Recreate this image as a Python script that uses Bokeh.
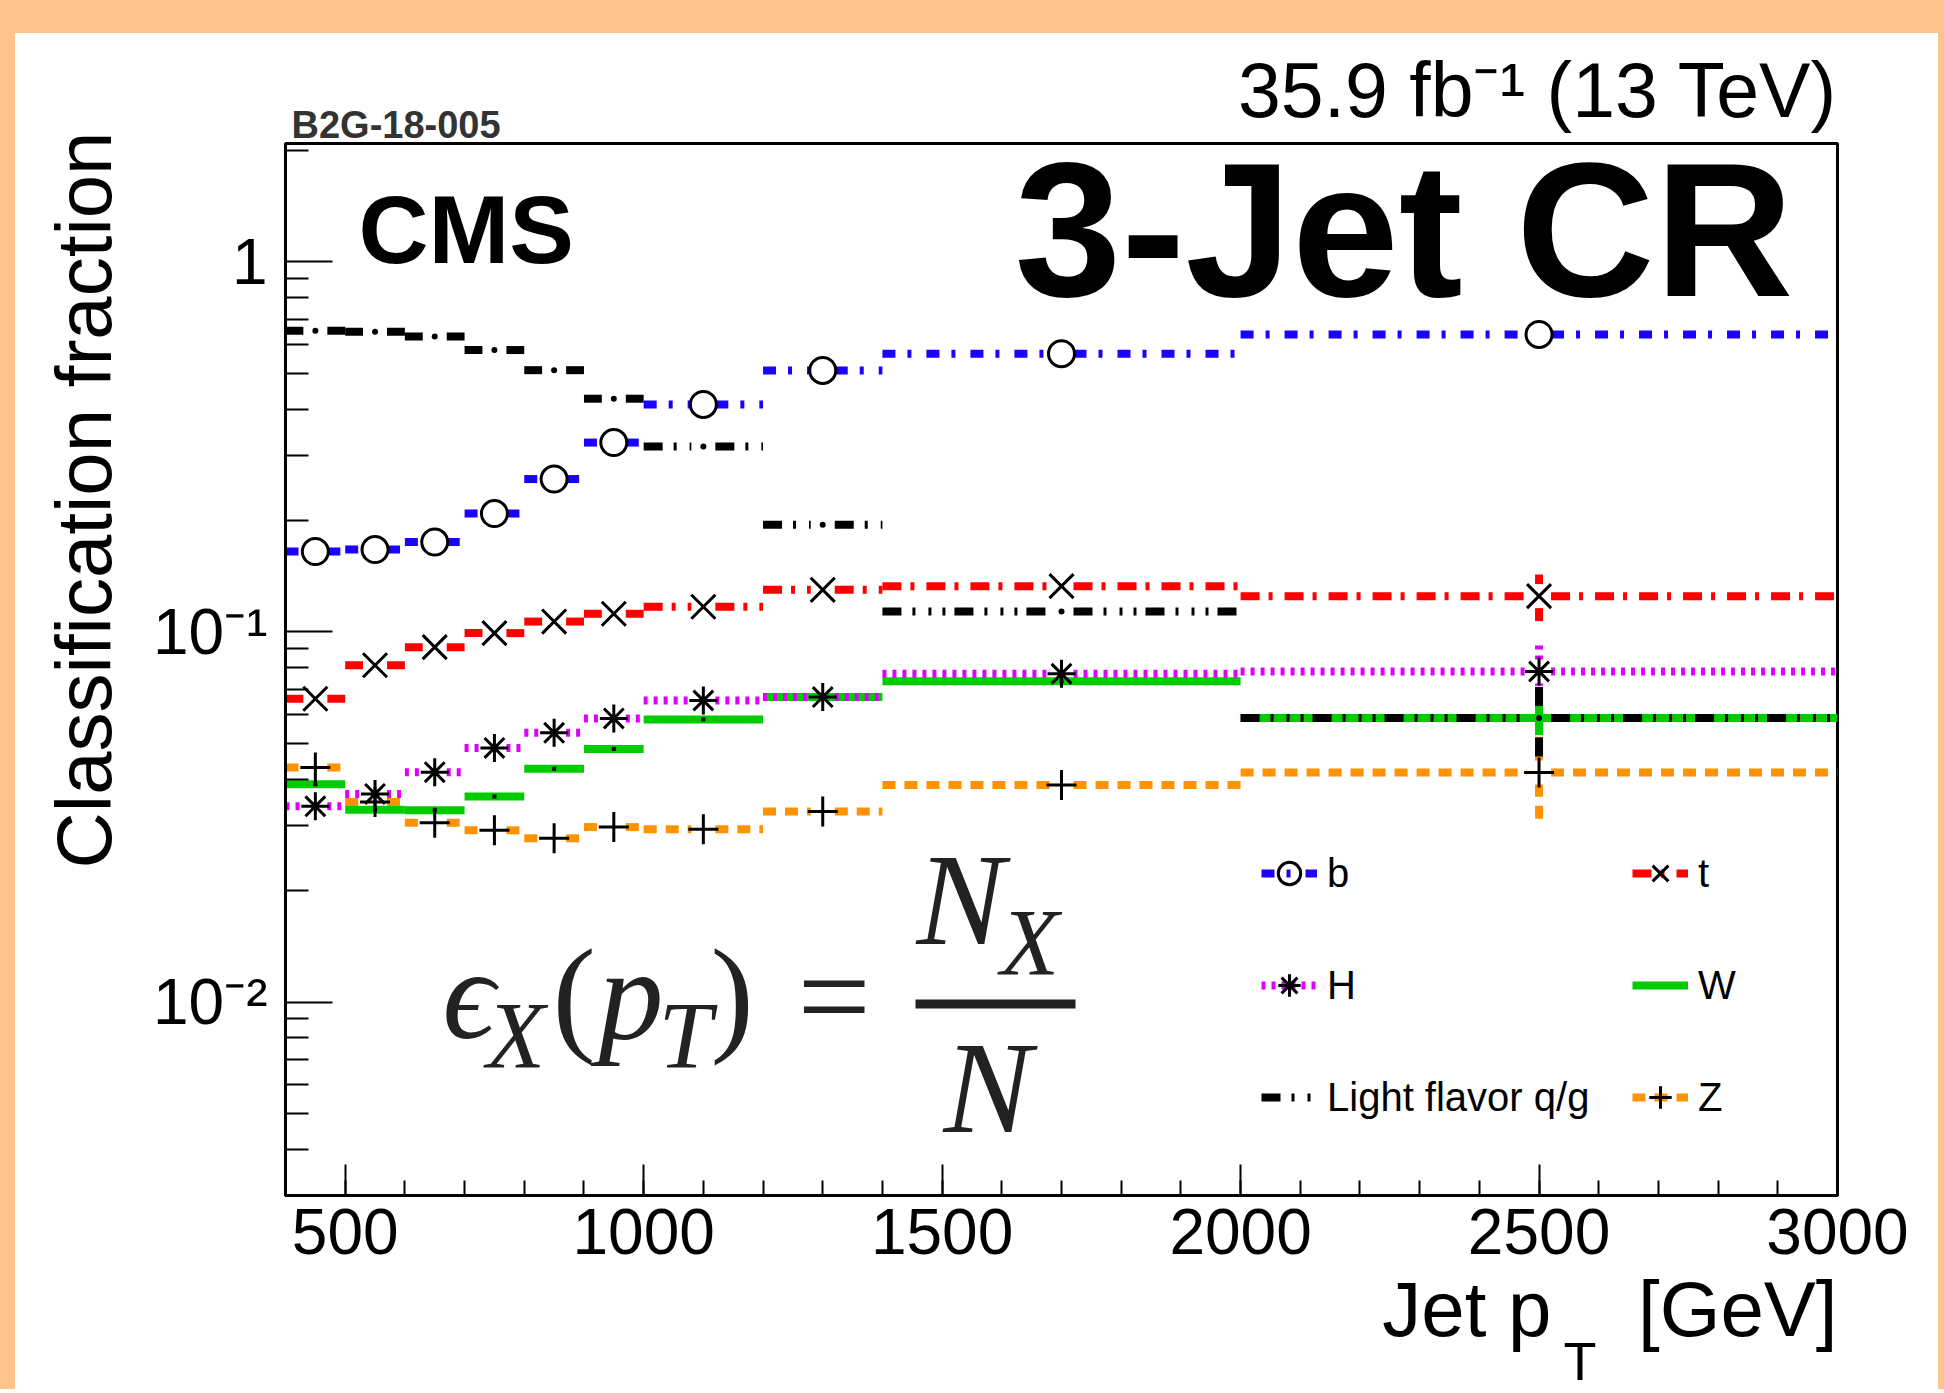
import math
from bokeh.plotting import figure
from bokeh.models import (Range1d, FixedTicker, SingleIntervalTicker, Label, Legend,
                          LegendItem, ColumnDataSource, BoxAnnotation, Div, Title)
from bokeh.layouts import column, row
from bokeh.embed import file_html
from bokeh.resources import INLINE

# ---------------- data ----------------
bin_edges = [400, 500, 600, 700, 800, 900, 1000, 1200, 1400, 2000, 3000]
bin_centers = [450, 550, 650, 750, 850, 950, 1100, 1300, 1700, 2500]

frac_b = [0.165, 0.167, 0.175, 0.209, 0.259, 0.325, 0.412, 0.509, 0.565, 0.637]
frac_t = [0.066, 0.0813, 0.091, 0.0993, 0.1067, 0.112, 0.117, 0.130, 0.133, 0.125]
frac_H = [0.0338, 0.0365, 0.0418, 0.0486, 0.0534, 0.0584, 0.0653, 0.0667, 0.0771, 0.0782]
frac_W = [0.0388, 0.0331, 0.0330, 0.0359, 0.0427, 0.0483, 0.0580, 0.0667, 0.0736, 0.0586]
frac_lf = [0.652, 0.648, 0.629, 0.578, 0.510, 0.427, 0.317, 0.195, 0.1136, 0.0586]
frac_Z = [0.0430, 0.0347, 0.0305, 0.0291, 0.0277, 0.0297, 0.0293, 0.0327, 0.0386, 0.0417]

err_b = [0, 0, 0, 0, 0, 0, 0, 0, 0, 0.0]
err_t = [0, 0, 0, 0, 0, 0, 0, 0, 0, 0.018]
err_H = [0, 0, 0, 0, 0, 0, 0, 0, 0, 0.015]
err_W = [0, 0, 0, 0, 0, 0, 0, 0, 0, 0.006]
err_lf = [0, 0, 0, 0, 0, 0, 0, 0, 0, 0.0125]
err_Z = [0, 0, 0, 0, 0, 0, 0, 0, 0, 0.0104]

y_major_ticks = [0.01, 0.1, 1]
y_tick_labels = {0.01: "10\u207b\u00b2", 0.1: "10\u207b\u00b9", 1: "1"}

# ---------------- geometry ----------------
X_MIN, X_MAX = 400, 3000
Y_MIN, Y_MAX = 0.003, 2.09
FRAME_L, FRAME_T, FRAME_W, FRAME_H = 285, 143, 1552, 1052
LOG_TOP, LOG_BOT = math.log10(Y_MAX), math.log10(Y_MIN)
GEV_PER_PX = (X_MAX - X_MIN) / FRAME_W
PX_PER_DEC = FRAME_H / (LOG_TOP - LOG_BOT)


def X(px):
    return X_MIN + (px - FRAME_L) * GEV_PER_PX


def Y(py):
    return 10 ** (LOG_TOP - (py - FRAME_T) / PX_PER_DEC)


ORANGE = "#FFC48C"
SANS = "Liberation Sans"
SERIF = "Liberation Serif"

p = figure(frame_width=FRAME_W, frame_height=FRAME_H,
           x_range=Range1d(X_MIN, X_MAX), y_range=Range1d(Y_MIN, Y_MAX),
           y_axis_type="log", output_backend="svg", toolbar_location=None,
           title="35.9 fb\u207b\u00b9 (13 TeV)",
           min_border_left=270, min_border_right=101, min_border_top=110,
           min_border_bottom=194)
p.outline_line_color = "black"
p.outline_line_width = 3
p.xgrid.visible = False
p.ygrid.visible = False
p.background_fill_color = "white"
p.border_fill_color = "white"

xa = p.xaxis[0]
xa.ticker = SingleIntervalTicker(interval=500, num_minor_ticks=5)
ya = p.yaxis[0]
minor = []
for dec in [0.001, 0.01, 0.1, 1]:
    for m in range(2, 10):
        v = m * dec
        if Y_MIN <= v <= Y_MAX:
            minor.append(v)
ya.ticker = FixedTicker(ticks=y_major_ticks, minor_ticks=minor)
ya.major_label_overrides = y_tick_labels

for ax, maj, mnr, stand in [(xa, 31, 15, 13), (ya, 47, 23, 18)]:
    ax.axis_line_width = 3
    ax.axis_line_color = "black"
    ax.major_tick_in = maj
    ax.major_tick_out = 0
    ax.minor_tick_in = mnr
    ax.minor_tick_out = 0
    ax.major_tick_line_width = 2
    ax.minor_tick_line_width = 2
    ax.major_tick_line_color = "black"
    ax.minor_tick_line_color = "black"
    ax.major_label_text_font = SANS
    ax.major_label_text_font_size = "64px"
    ax.major_label_text_color = "black"
    ax.major_label_standoff = stand

# ---------------- series ----------------
series = {
    "b": dict(vals=frac_b, errs=err_b, color="#1a00ff", dash="13 12 4 15", width=8,
              marker="circle", msize=26, mfill=None, gap=12),
    "t": dict(vals=frac_t, errs=err_t, color="#ff0000", dash="19 9 4 12", width=8,
              marker="x", msize=34, mfill=None, gap=12),
    "H": dict(vals=frac_H, errs=err_H, color="#dd00ff", dash="4 6", width=8,
              marker="asterisk", msize=28, mfill=None, gap=12),
    "W": dict(vals=frac_W, errs=err_W, color="#00cc00", dash="solid", width=8,
              marker="square", msize=4, mfill="black", gap=0),
    "lf": dict(vals=frac_lf, errs=err_lf, color="#000000", dash="19 11 3 13 3 11 3 9", width=8,
               marker="circle", msize=6, mfill="black", gap=12),
    "Z": dict(vals=frac_Z, errs=err_Z, color="#ff9200", dash="13 9", width=8,
              marker="cross", msize=30, mfill=None, gap=12),
}


def build_segments(vals, errs, gap_px):
    gx = gap_px * GEV_PER_PX
    gy = 10 ** (gap_px / PX_PER_DEC)
    x0, y0, x1, y1 = [], [], [], []
    for i, (c, v, e) in enumerate(zip(bin_centers, vals, errs)):
        lo, hi = bin_edges[i], bin_edges[i + 1]
        if gap_px > 0:
            x0 += [lo, c + gx]; y0 += [v, v]; x1 += [c - gx, hi]; y1 += [v, v]
        else:
            x0.append(lo); y0.append(v); x1.append(hi); y1.append(v)
        if e > 0:
            if gap_px > 0:
                if v - e < v / gy:
                    x0.append(c); y0.append(v - e); x1.append(c); y1.append(v / gy)
                if v + e > v * gy:
                    x0.append(c); y0.append(v * gy); x1.append(c); y1.append(v + e)
            else:
                x0.append(c); y0.append(v - e); x1.append(c); y1.append(v + e)
    return ColumnDataSource(dict(x0=x0, y0=y0, x1=x1, y1=y1))


seg_r, mk_r = {}, {}
for key in ["W", "b", "t", "H", "Z", "lf"]:
    s = series[key]
    src = build_segments(s["vals"], s["errs"], s["gap"])
    seg_r[key] = p.segment("x0", "y0", "x1", "y1", source=src, line_color=s["color"],
                           line_width=s["width"], line_dash=s["dash"], line_cap="butt")
for key in ["W", "b", "t", "H", "Z", "lf"]:
    s = series[key]
    msrc = ColumnDataSource(dict(x=bin_centers, y=s["vals"]))
    if s["mfill"] is None:
        mk_r[key] = p.scatter("x", "y", source=msrc, marker=s["marker"], size=s["msize"],
                              line_color="black", line_width=3, fill_color=None)
    else:
        mk_r[key] = p.scatter("x", "y", source=msrc, marker=s["marker"], size=s["msize"],
                              line_color=None, fill_color="black")

leg_style = dict(orientation="vertical", glyph_width=56, glyph_height=56, spacing=56,
                 padding=0, label_standoff=10, label_text_font=SANS,
                 label_text_font_size="40px", label_text_color="black",
                 border_line_alpha=0, background_fill_alpha=0, label_height=56)
leg1 = Legend(items=[LegendItem(label="b", renderers=[seg_r["b"], mk_r["b"]]),
                     LegendItem(label="H", renderers=[seg_r["H"], mk_r["H"]]),
                     LegendItem(label="Light flavor q/g", renderers=[seg_r["lf"]])],
              location=(976, 70), **leg_style)
leg2 = Legend(items=[LegendItem(label="t", renderers=[seg_r["t"], mk_r["t"]]),
                     LegendItem(label="W", renderers=[seg_r["W"]]),
                     LegendItem(label="Z", renderers=[seg_r["Z"], mk_r["Z"]])],
              location=(1347, 70), **leg_style)
p.add_layout(leg1)
p.add_layout(leg2)

# ---------------- texts outside the frame (titles) ----------------
# luminosity label: the plot title, outermost above the frame
p.title.align = "right"
p.title.offset = 0
p.title.standoff = -58
p.title.text_font = SANS
p.title.text_font_size = "77px"
p.title.text_font_style = "normal"
p.title.text_color = "black"

b2g = Title(text="B2G-18-005", align="left", offset=6, standoff=-4,
            text_font=SANS, text_font_size="38px", text_font_style="bold",
            text_color="#333333")
p.add_layout(b2g, "above")

ytitle = Title(text="Classification fraction", align="right", offset=-12, standoff=44,
               text_font=SANS, text_font_size="78px", text_font_style="normal",
               text_color="black")
p.add_layout(ytitle, "left")

xtitle = Title(text="Jet p" + "\u00a0" * 4 + "[GeV]", align="right", standoff=12,
               text_font=SANS, text_font_size="78px", text_font_style="normal",
               text_color="black")
p.add_layout(xtitle, "below")
tsub = Title(text="T", align="left", offset=1278, standoff=-60,
             text_font=SANS, text_font_size="54px", text_font_style="normal",
             text_color="black")
p.add_layout(tsub, "below")


# ---------------- texts inside the frame ----------------
def lab(text, px, py, size, font=SANS, style="normal", color="black", k=0.355):
    # py is the wanted baseline; label anchored at the text middle
    p.add_layout(Label(x=X(px), y=Y(py - k * size), text=text, text_font=font,
                       text_font_size=f"{size}px", text_font_style=style,
                       text_color=color, text_align="left", text_baseline="middle"))


lab("CMS", 358, 263, 97, style="bold")
lab("3-Jet CR", 1014, 297, 192, style="bold")

FC = "#222222"
K2 = 0.345
lab("\u03f5", 442, 1038, 130, font=SERIF, style="italic", color=FC, k=K2)
lab("X", 486, 1068, 96, font=SERIF, style="italic", color=FC, k=K2)
lab("(", 552, 1038, 130, font=SERIF, color=FC, k=K2)
lab("p", 598, 1038, 130, font=SERIF, style="italic", color=FC, k=K2)
lab("T", 658, 1068, 96, font=SERIF, style="italic", color=FC, k=K2)
lab(")", 710, 1038, 130, font=SERIF, color=FC, k=K2)
lab("=", 797, 1040, 130, font=SERIF, color=FC, k=K2)
lab("N", 916, 945, 132, font=SERIF, style="italic", color=FC, k=K2)
lab("X", 1000, 975, 96, font=SERIF, style="italic", color=FC, k=K2)
lab("N", 943, 1133, 132, font=SERIF, style="italic", color=FC, k=K2)
p.add_layout(BoxAnnotation(left=X(915), right=X(1075), top=Y(999), bottom=Y(1008),
                           fill_color=FC, fill_alpha=1.0, line_alpha=0))

# ---------------- page frame ----------------
top_band = Div(text="", width=1944, height=33, margin=0,
               styles={"background-color": ORANGE})
left_band = Div(text="", width=15, height=1356, margin=0,
                styles={"background-color": ORANGE})
right_band = Div(text="", width=6, height=1356, margin=0,
                 styles={"background-color": ORANGE})
layout = column(top_band, row(left_band, p, right_band, spacing=0), spacing=0)

open("out.html", "w").write(file_html(layout, INLINE, title="3-Jet CR"))
